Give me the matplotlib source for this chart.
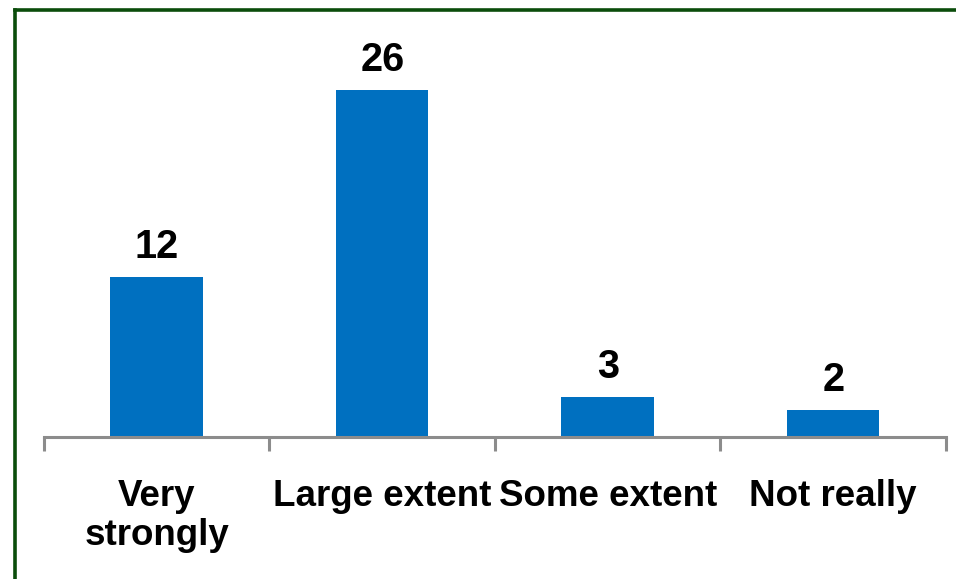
import matplotlib
matplotlib.use("Agg")
import matplotlib.pyplot as plt
from matplotlib.lines import Line2D

plt.rcParams.update({
    "font.family": ["Liberation Sans", "DejaVu Sans"],
    "font.weight": "bold",
})

AZUL = "#0070C0"
CINZA = "#8c8c8c"
VERDE = "#0b4d0b"

categorias = ["Very\nstrongly", "Large extent", "Some extent", "Not really"]
valores = [12, 26, 3, 2]

fig = plt.figure(figsize=(9.56, 5.79), dpi=100)
ax = fig.add_axes([0.0460, 0.2453, 0.9435, 0.7029])

x = range(len(categorias))
ax.bar(x, valores, width=0.41, color=AZUL, zorder=2)

for i, v in enumerate(valores):
    ax.annotate(str(v), (i, v), xytext=(0, 13.7), textcoords="offset points",
                ha="center", va="baseline", fontsize=28.5, fontweight="bold")

ax.set_xlim(-0.5, len(categorias) - 0.5)
ax.set_ylim(0, 30.49)
for s in ("top", "right", "left"):
    ax.spines[s].set_visible(False)
ax.spines["bottom"].set_color(CINZA)
ax.spines["bottom"].set_linewidth(2.2)
ax.set_yticks([])

ax.set_xticks(list(x))
ax.set_xticklabels(categorias, fontsize=26.5, fontweight="bold", linespacing=1.17)
ax.set_xticks([i - 0.5 for i in range(len(categorias) + 1)], minor=True)
ax.tick_params(axis="x", which="major", length=0, pad=30)
ax.tick_params(axis="x", which="minor", length=10, width=2.2, color=CINZA)

# moldura verde (so topo e esquerda aparecem)
fig.add_artist(Line2D([15 / 956, 15 / 956], [0, 1 - 10 / 579], color=VERDE, lw=2.6,
                      transform=fig.transFigure, solid_capstyle="projecting"))
fig.add_artist(Line2D([15 / 956, 1], [1 - 10 / 579, 1 - 10 / 579], color=VERDE, lw=2.6,
                      transform=fig.transFigure, solid_capstyle="projecting"))

fig.savefig("out.png", dpi=100)
